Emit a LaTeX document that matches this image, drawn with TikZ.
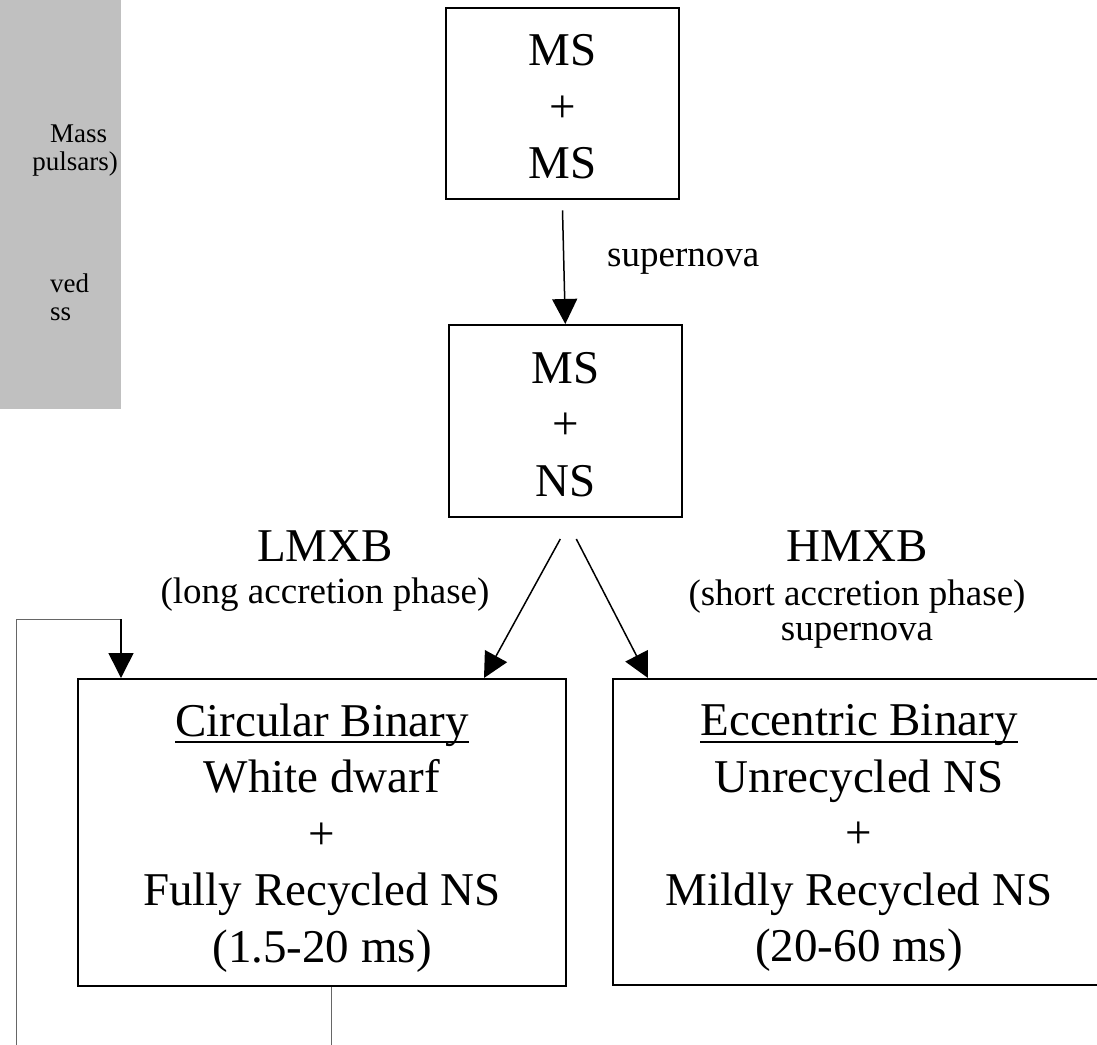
\documentclass[tikz,border=0pt]{standalone}
\usepackage{fontspec}
\setmainfont{Liberation Serif}
\usetikzlibrary{arrows.meta}
\definecolor{legendgray}{RGB}{192,192,192}
\newcommand{\ulinetext}[1]{\setbox0\hbox{#1}\rlap{\rule[-7pt]{\wd0}{2pt}}\box0}

\begin{document}
\begin{tikzpicture}[x=1pt,y=-1pt,
	stage/.style={draw, line width=2pt, inner sep=0pt, align=center, font=\fontsize{47pt}{56.5pt}\selectfont},
	bigtext/.style={inner sep=0pt, font=\fontsize{47pt}{56.5pt}\selectfont},
	smalltext/.style={inner sep=0pt, font=\fontsize{37pt}{44pt}\selectfont},
	legendtext/.style={inner sep=0pt, font=\fontsize{27pt}{30pt}\selectfont},
	arr/.style={line width=1.5pt, -{Triangle[width=25pt,length=25pt]}},
	loopline/.style={line width=1pt, black!60}]
	\useasboundingbox (0,0) rectangle (1097,1044);
	\clip (0,0) rectangle (1097,1044);

	% legend (cut off at the left)
	\fill[legendgray] (0,0) rectangle (121,409);
	\node[legendtext, anchor=base west] (leg1) at (50,142) {Mass};
	\node[legendtext, anchor=base east] (leg2) at (118,170) {pulsars)};
	\node[legendtext, anchor=base west] (leg3) at (50,292) {ved};
	\node[legendtext, anchor=base west] (leg4) at (50,320) {ss};

	\node[stage, minimum width=233.6pt, minimum height=191.4pt] (msms) at (562.5,103.6) {\rule{0pt}{38pt}MS\\+\\MS};
	\node[stage, minimum width=233.3pt, minimum height=192pt] (msns) at (565.3,421) {\rule{0pt}{38pt}MS\\+\\NS};
	\node[stage, minimum width=487.4pt, minimum height=307pt] (circ) at (322,832.5)
		{\rule{0pt}{43pt}\ulinetext{Circular Binary}\\White dwarf\\+\\Fully Recycled NS\\(1.5-20 ms)};
	\node[stage, minimum width=491.4pt, minimum height=306pt] (ecc) at (859,832)
		{\rule{0pt}{43pt}\ulinetext{Eccentric Binary}\\Unrecycled NS\\+\\Mildly Recycled NS\\(20-60 ms)};

	\node[smalltext, anchor=base west] (sn1) at (607,266) {supernova};
	\node[bigtext, anchor=base] (lmxb) at (325,561) {LMXB};
	\node[smalltext, anchor=base] (lmxbnote) at (325,603) {(long accretion phase)};
	\node[bigtext, anchor=base] (hmxb) at (857,561) {HMXB};
	\node[smalltext, anchor=base] (hmxbnote) at (857,605) {(short accretion phase)};
	\node[smalltext, anchor=base] (sn2) at (857,640) {supernova};

	\draw[arr] ([yshift=-10pt]msms.south) -- (msns.north);
	\draw[arr] ([xshift=-5pt,yshift=-21pt]msns.south) -- ([xshift=162pt]circ.north);
	\draw[arr] ([xshift=11pt,yshift=-21pt]msns.south) -- ([xshift=-211pt]ecc.north);

	% recycling loop
	\coordinate (loopturn) at (121,619);
	\draw[loopline] ([xshift=9.7pt]circ.south) -- ++(0,80) -| (16,619) -- (loopturn);
	\draw[arr] (loopturn) -- ([xshift=-201pt]circ.north);
\end{tikzpicture}
\end{document}
